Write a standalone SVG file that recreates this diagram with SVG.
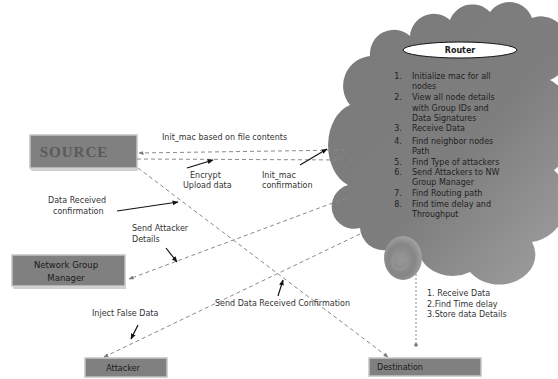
<svg xmlns="http://www.w3.org/2000/svg" width="558" height="379" viewBox="0 0 558 379">
<style>
.t{font-family:"DejaVu Sans","Liberation Sans",sans-serif;font-size:8px;fill:#333}
.c{font-family:"DejaVu Sans","Liberation Sans",sans-serif;font-size:8px;fill:#222}
.b{font-family:"DejaVu Sans","Liberation Sans",sans-serif;font-size:8px;fill:#1a1a1a;font-weight:bold}
.box{fill:#808080;stroke:#c4c4c4;stroke-width:1.5}
.dash{fill:none;stroke:#8a8a8a;stroke-width:1;stroke-dasharray:4 3}
.call{fill:none;stroke:#111;stroke-width:1.2}
</style>
<defs>
<linearGradient id="cg" x1="0" y1="0" x2="1" y2="1">
<stop offset="0" stop-color="#7a7a7a"/>
<stop offset="0.55" stop-color="#7e7e7e"/>
<stop offset="1" stop-color="#a2a2a2"/>
</linearGradient>
<radialGradient id="kg" cx="0.45" cy="0.55" r="0.6">
<stop offset="0" stop-color="#989898"/>
<stop offset="0.6" stop-color="#858585"/>
<stop offset="1" stop-color="#a8a8a8"/>
</radialGradient>
<marker id="ad" viewBox="0 0 10 10" refX="9" refY="5" markerWidth="5" markerHeight="5" orient="auto">
<path d="M0,1 L10,5 L0,9 z" fill="#777"/>
</marker>
<marker id="ac" viewBox="0 0 10 10" refX="9" refY="5" markerWidth="5" markerHeight="5" orient="auto">
<path d="M0,1 L10,5 L0,9 z" fill="#111"/>
</marker>
</defs>
<rect width="558" height="379" fill="#fff"/>

<g id="router">
<path d="M350,105 A30,30 0 0 1 370,56 A24,24 0 0 1 410,36 A24,24 0 0 1 450,20 A24,24 0 0 1 490,12 A24,24 0 0 1 532,18 A28,32 0 0 1 550,80 A40,50 0 0 1 554,170 A42,42 0 0 1 532,242 A36,30 0 0 1 470,272 A34,28 0 0 1 420,256 L388,250 A24,24 0 0 1 360,228 A22,22 0 0 1 348,185 A30,42 0 0 1 350,105 Z" fill="url(#cg)"/>
<ellipse cx="403" cy="258" rx="19" ry="22" fill="url(#kg)"/>
<circle cx="400" cy="262" r="8" fill="none" stroke="#959595" stroke-width="1.5"/>
<ellipse cx="460" cy="50" rx="57" ry="8" fill="#fff" stroke="#111" stroke-width="1"/>
<text x="460" y="53" text-anchor="middle" class="b">Router</text>
<g class="c">
<text x="398" y="79" text-anchor="middle">1.</text><text x="412" y="79">Initialize mac for all</text>
<text x="412" y="89">nodes</text>
<text x="398" y="100" text-anchor="middle">2.</text><text x="412" y="100">View all node details</text>
<text x="412" y="111">with Group IDs and</text>
<text x="412" y="121">Data Signatures</text>
<text x="398" y="131" text-anchor="middle">3.</text><text x="412" y="131">Receive Data</text>
<text x="398" y="144" text-anchor="middle">4.</text><text x="412" y="144">Find neighbor nodes</text>
<text x="412" y="154">Path</text>
<text x="398" y="165" text-anchor="middle">5.</text><text x="412" y="165">Find Type of attackers</text>
<text x="398" y="175" text-anchor="middle">6.</text><text x="412" y="175">Send Attackers to NW</text>
<text x="412" y="185">Group Manager</text>
<text x="398" y="196" text-anchor="middle">7.</text><text x="412" y="196">Find Routing path</text>
<text x="398" y="207" text-anchor="middle">8.</text><text x="412" y="207">Find time delay and</text>
<text x="412" y="217">Throughput</text>
</g>
</g>

<g id="source">
<line x1="31" y1="170" x2="138" y2="170" stroke="#d0d0d0" stroke-width="2"/>
<rect class="box" x="30" y="135" width="107" height="33"/>
<text x="74" y="157" text-anchor="middle" style="font-family:'Liberation Serif',serif;font-size:15px;font-weight:bold;fill:#5a5a5a;letter-spacing:1px">SOURCE</text>
</g>

<g id="network-group-manager">
<line x1="13" y1="288" x2="126" y2="288" stroke="#d0d0d0" stroke-width="2"/>
<rect class="box" x="12" y="255" width="113" height="31"/>
<text x="66" y="268" text-anchor="middle" class="b" style="font-weight:normal;font-size:8.5px">Network Group</text>
<text x="66" y="281" text-anchor="middle" class="b" style="font-weight:normal;font-size:8.5px">Manager</text>
</g>

<g id="attacker">
<rect class="box" x="85" y="358" width="82" height="19"/>
<text x="123" y="371" text-anchor="middle" class="b" style="font-weight:normal">Attacker</text>
</g>

<g id="destination">
<rect class="box" x="369" y="358" width="112" height="18"/>
<text x="377" y="370" class="b" style="font-weight:normal">Destination</text>
</g>

<g id="connectors">
<line class="dash" x1="345" y1="150" x2="139" y2="153" marker-end="url(#ad)"/>
<line class="dash" x1="137" y1="159" x2="348" y2="160" marker-end="url(#ad)"/>
<line class="dash" x1="138" y1="168" x2="388" y2="357" marker-end="url(#ad)"/>
<line class="dash" x1="346" y1="198" x2="129" y2="279" marker-end="url(#ad)"/>
<line class="dash" x1="360" y1="234" x2="104" y2="357" marker-end="url(#ad)"/>
<line x1="416" y1="270" x2="416" y2="345" fill="none" stroke="#888" stroke-width="1" stroke-dasharray="2 2"/>
<circle cx="416" cy="345" r="1.8" fill="#777"/>
<line class="call" x1="187" y1="168" x2="213" y2="160" marker-end="url(#ac)"/>
<line class="call" x1="300" y1="165" x2="327" y2="149" marker-end="url(#ac)"/>
<line class="call" x1="117" y1="211" x2="178" y2="202" marker-end="url(#ac)"/>
<line class="call" x1="166" y1="248" x2="177" y2="262" marker-end="url(#ac)"/>
<line class="call" x1="138" y1="325" x2="131" y2="339" marker-end="url(#ac)"/>
<line class="call" x1="278" y1="296" x2="283" y2="280" marker-end="url(#ac)"/>
</g>

<g class="t">
<text x="162" y="140">Init_mac based on file contents</text>
<text x="190" y="178">Encrypt</text>
<text x="183" y="188">Upload data</text>
<text x="262" y="178">Init_mac</text>
<text x="262" y="188">confirmation</text>
<text x="48" y="203">Data Received</text>
<text x="53" y="214">confirmation</text>
<text x="132" y="231">Send Attacker</text>
<text x="132" y="242">Details</text>
<text x="92" y="316">Inject False Data</text>
<text x="215" y="306">Send Data Received Confirmation</text>
<text x="427" y="296">1. Receive Data</text>
<text x="427" y="307">2.Find Time delay</text>
<text x="427" y="317">3.Store data Details</text>
</g>
</svg>
